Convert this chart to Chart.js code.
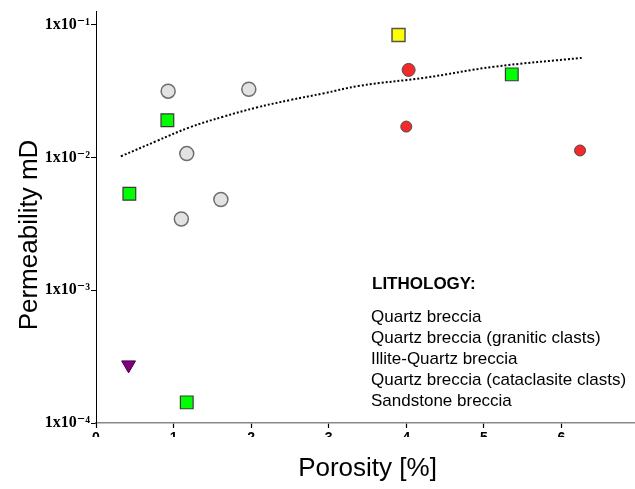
<!DOCTYPE html>
<html>
<head>
<meta charset="utf-8">
<script src="https://cdn.jsdelivr.net/npm/chart.js@4.4.1/dist/chart.umd.min.js"></script>
<style>
  html, body { margin: 0; padding: 0; background: #fff; overflow: hidden; }
  #wrap { width: 660px; height: 489px; }
</style>
</head>
<body>
<div id="wrap"><canvas id="chart"></canvas></div>
<script>
// Lithology groups (legend order)
const lithologyNames = [
  'Quartz breccia',
  'Quartz breccia (granitic clasts)',
  'Illite-Quartz breccia',
  'Quartz breccia (cataclasite clasts)',
  'Sandstone breccia'
];

// Porosity [%] and permeability [mD] per group
const quartzPorosity = [0.93, 1.97, 1.17, 1.61, 1.10];
const quartzPerm     = [0.0316, 0.0327, 0.0107, 0.00483, 0.00344];

const graniticPorosity = [4.03, 4.00, 6.24];
const graniticPerm     = [0.0457, 0.0171, 0.0113];

const illitePorosity = [3.90];
const illitePerm     = [0.0839];

const cataclasitePorosity = [0.42];
const cataclasitePerm     = [0.000274];

const sandstonePorosity = [0.92, 0.43, 5.36, 1.17];
const sandstonePerm     = [0.0191, 0.00533, 0.0423, 0.000143];

// Trend curve through the data cloud
const trendPorosity = [0.32, 0.78, 1.21, 1.64, 2.07, 2.50, 2.93, 3.40, 4.26, 5.12, 6.26];
const trendPerm     = [0.0102, 0.0133, 0.0169, 0.0203, 0.0238, 0.0271, 0.0304, 0.0347, 0.0401, 0.0482, 0.0563];

// Axis ticks and titles
const xTickValues = [0, 1, 2, 3, 4, 5, 6, 7];
const yTickValues = [1e-4, 1e-3, 1e-2, 1e-1];
const yTickLabels = ['1x10\u207B\u2074', '1x10\u207B\u00B3', '1x10\u207B\u00B2', '1x10\u207B\u00B9'];
const xAxisTitle = 'Porosity [%]';
const yAxisTitle = 'Permeability mD';

const pairs = (xs, ys) => xs.map((x, i) => ({ x: x, y: ys[i] }));
const SANS = '"Liberation Sans", Arial, sans-serif';

// Legend text block drawn inside the plot area
const lithologyLegend = {
  id: 'lithologyLegend',
  afterDraw(chart, args, opts) {
    const { ctx, chartArea } = chart;
    const x0 = chartArea.left + opts.offsetX;
    ctx.save();
    ctx.fillStyle = '#000';
    ctx.textBaseline = 'middle';
    ctx.textAlign = 'left';
    ctx.font = 'bold ' + opts.size + 'px ' + SANS;
    ctx.fillText(opts.title, x0 + 1, chartArea.top + opts.titleOffsetY);
    ctx.font = opts.size + 'px ' + SANS;
    opts.items.forEach((name, i) => {
      ctx.fillText(name, x0, chartArea.top + opts.itemsOffsetY + i * opts.lineGap);
    });
    ctx.restore();
  }
};

// Rotated permeability title, sitting a little below the middle of the axis
const verticalTitle = {
  id: 'verticalTitle',
  afterDraw(chart, args, opts) {
    const { ctx, chartArea } = chart;
    const cy = (chartArea.top + chartArea.bottom) / 2 + opts.shiftY;
    ctx.save();
    ctx.translate(opts.x, cy);
    ctx.rotate(-Math.PI / 2);
    ctx.fillStyle = '#000';
    ctx.textAlign = 'center';
    ctx.textBaseline = 'middle';
    ctx.font = opts.size + 'px ' + SANS;
    ctx.fillText(opts.text, 0, 0);
    ctx.restore();
  }
};

// Only the upper part of the porosity tick labels shows below the axis
const tickLabelMask = {
  id: 'tickLabelMask',
  afterDraw(chart, args, opts) {
    const { ctx } = chart;
    const xs = chart.scales.x;
    ctx.save();
    ctx.fillStyle = '#fff';
    ctx.fillRect(0, xs.top + opts.from, chart.width, opts.to - opts.from);
    ctx.restore();
  }
};

new Chart(document.getElementById('chart'), {
  type: 'scatter',
  data: {
    datasets: [
      {
        label: 'Trend',
        type: 'line',
        data: pairs(trendPorosity, trendPerm),
        borderColor: '#000',
        borderWidth: 2,
        borderDash: [2, 2],
        pointRadius: 0,
        fill: false,
        tension: 0.4,
        order: 10
      },
      {
        label: lithologyNames[0],
        data: pairs(quartzPorosity, quartzPerm),
        pointStyle: 'circle',
        pointRadius: 7,
        backgroundColor: '#e2e2e2',
        borderColor: '#6e6e6e',
        borderWidth: 1.5
      },
      {
        label: lithologyNames[1],
        data: pairs(graniticPorosity, graniticPerm),
        pointStyle: 'circle',
        pointRadius: [6.5, 5.5, 5.5],
        backgroundColor: '#f42a2a',
        borderColor: '#4a4a4a',
        borderWidth: 1
      },
      {
        label: lithologyNames[2],
        data: pairs(illitePorosity, illitePerm),
        pointStyle: 'rect',
        pointRadius: 9.2,
        backgroundColor: '#ffff00',
        borderColor: '#555',
        borderWidth: 1.5
      },
      {
        label: lithologyNames[3],
        data: pairs(cataclasitePorosity, cataclasitePerm),
        pointStyle: 'triangle',
        rotation: 180,
        pointRadius: 8,
        backgroundColor: '#800080',
        borderColor: '#4a004a',
        borderWidth: 1
      },
      {
        label: lithologyNames[4],
        data: pairs(sandstonePorosity, sandstonePerm),
        pointStyle: 'rect',
        pointRadius: 9,
        backgroundColor: '#00ff00',
        borderColor: '#3a3a3a',
        borderWidth: 1.2
      }
    ]
  },
  options: {
    responsive: true,
    maintainAspectRatio: false,
    animation: false,
    layout: { padding: { top: 11, right: 21, left: 0, bottom: 0 } },
    plugins: {
      legend: { display: false },
      tooltip: { enabled: false },
      lithologyLegend: {
        title: 'LITHOLOGY:',
        items: lithologyNames,
        size: 17,
        offsetX: 275,
        titleOffsetY: 273,
        itemsOffsetY: 306,
        lineGap: 21.2
      },
      verticalTitle: { text: yAxisTitle, x: 30, shiftY: 18, size: 26 },
      tickLabelMask: { from: 14, to: 30 }
    },
    scales: {
      x: {
        type: 'linear',
        min: 0,
        max: 7,
        afterFit(scale) { scale.height = 66; },
        afterBuildTicks(scale) { scale.ticks = xTickValues.map(v => ({ value: v })); },
        border: { display: true, color: '#888', width: 1.5 },
        grid: { drawOnChartArea: false, drawTicks: true, tickLength: 5, color: '#000', tickWidth: 1.2 },
        ticks: {
          color: '#000',
          padding: 2,
          maxRotation: 0,
          font: { family: SANS, size: 14, weight: 'bold' },
          callback: (v) => String(v)
        },
        title: {
          display: true,
          text: xAxisTitle,
          color: '#000',
          padding: { top: 0, bottom: 5 },
          font: { family: SANS, size: 26 }
        }
      },
      y: {
        type: 'logarithmic',
        min: 1e-4,
        max: 0.127,
        afterFit(scale) { scale.width = 96; },
        afterBuildTicks(scale) { scale.ticks = yTickValues.map(v => ({ value: v })); },
        border: { display: true, color: '#000', width: 1 },
        grid: { drawOnChartArea: false, drawTicks: true, tickLength: 5, color: '#000' },
        ticks: {
          color: '#000',
          padding: 1,
          font: { family: '"Liberation Serif", "DejaVu Serif", serif', size: 16, weight: 'bold' },
          callback: (v) => yTickLabels[yTickValues.indexOf(v)] || ''
        },
        title: { display: false }
      }
    }
  },
  plugins: [lithologyLegend, verticalTitle, tickLabelMask]
});
</script>
</body>
</html>
